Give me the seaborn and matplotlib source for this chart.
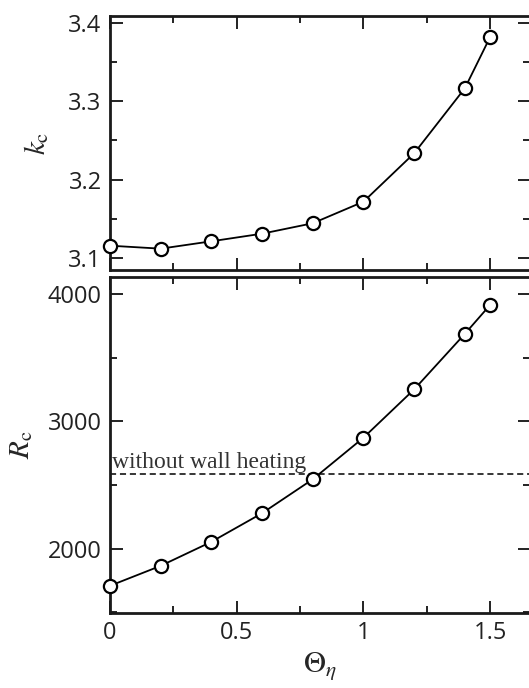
import numpy as np
import pandas as pd
import matplotlib
matplotlib.use("Agg")
import matplotlib.pyplot as plt
from matplotlib.ticker import MultipleLocator
import seaborn as sns

# ---- data ----
theta = [0.0, 0.2, 0.4, 0.6, 0.8, 1.0, 1.2, 1.4, 1.5]
k_c = [3.1157, 3.1119, 3.1213, 3.1310, 3.1443, 3.1718, 3.2335, 3.3164, 3.3819]
R_c = [1707, 1864, 2053, 2278, 2545, 2872, 3252, 3689, 3917]
R_no_heating = 2585
x_ticks = [0, 0.5, 1, 1.5]
x_tick_labels = ["0", "0.5", "1", "1.5"]
k_ticks = [3.1, 3.2, 3.3, 3.4]
R_ticks = [2000, 3000, 4000]

df = pd.DataFrame({"theta": theta, "k_c": k_c, "R_c": R_c})

sns.set_theme(style="ticks")
plt.rcParams["font.family"] = ["Open Sans", "DejaVu Sans"]
plt.rcParams["mathtext.fontset"] = "stix"

fig = plt.figure(figsize=(5.29, 6.88), dpi=100)
W, H = 529, 688
def rect(l, t, r, b):
    return [l / W, 1 - b / H, (r - l) / W, (b - t) / H]

ax1 = fig.add_axes(rect(110, 16, 529.5, 270))
ax2 = fig.add_axes(rect(110, 277, 529.5, 613))

line_kw = dict(color="black", linewidth=1.3, marker="o", markersize=9.5,
               markerfacecolor="white", markeredgecolor="black",
               markeredgewidth=1.6, clip_on=False, zorder=5)

sns.lineplot(data=df, x="theta", y="k_c", ax=ax1, **line_kw)
sns.lineplot(data=df, x="theta", y="R_c", ax=ax2, **line_kw)

ax2.axhline(R_no_heating, color="black", linestyle=(0, (4, 2.5)), linewidth=1.1, zorder=2)
ax2.text(0.008, 2631, "without wall heating", family=["Liberation Serif", "DejaVu Serif"],
         fontsize=17, color="#333333", ha="left", va="baseline")

for ax in (ax1, ax2):
    ax.set_xlim(0, 1.655)
    ax.xaxis.set_major_locator(MultipleLocator(0.5))
    ax.xaxis.set_minor_locator(MultipleLocator(0.25))
    ax.tick_params(which="both", direction="in", top=True, right=True,
                   labelsize=17, colors="#222222")
    ax.tick_params(which="major", length=9, width=1.4, pad=6)
    ax.tick_params(which="minor", length=5, width=1.4)
    for s in ax.spines.values():
        s.set_linewidth(2.0)
        s.set_color("#1a1a1a")
    ax.set_facecolor("white")

ax1.set_ylim(3.0847, 3.4085)
ax1.set_yticks(k_ticks)
ax1.set_yticklabels([f"{v:.1f}" for v in k_ticks])
ax1.yaxis.set_minor_locator(MultipleLocator(0.05))
ax1.tick_params(axis="x", labelbottom=False)
ax1.set_xlabel("")
ax1.set_ylabel(r"$k_\mathrm{c}$", fontsize=21, labelpad=12)

ax2.set_ylim(1493, 4136)
ax2.set_yticks(R_ticks)
ax2.set_yticklabels([str(v) for v in R_ticks])
ax2.yaxis.set_minor_locator(MultipleLocator(500))
ax2.set_xticks(x_ticks)
ax2.set_xticklabels(x_tick_labels)
ax2.set_xlabel(r"$\Theta_\eta$", fontsize=22, labelpad=3)
ax2.set_ylabel(r"$R_\mathrm{c}$", fontsize=21, labelpad=8)

fig.savefig("out.png", dpi=100)
